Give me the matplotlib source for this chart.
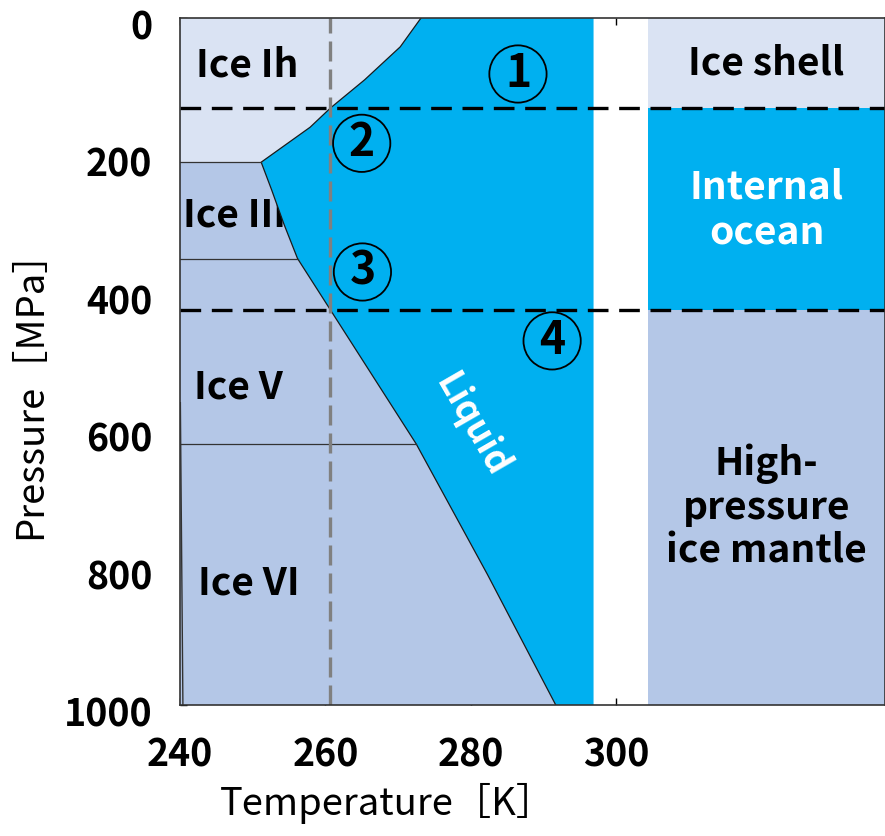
import numpy as np
import matplotlib.pyplot as plt
import matplotlib.transforms as mtransforms

plt.rcParams['font.family'] = ['Noto Sans CJK JP', 'DejaVu Sans']

# melting curve of water ice (T in K, P in MPa)
ih_T = [273.16, 270.3, 265.4, 260.7, 257.9, 251.17]
ih_P = [0, 42, 90, 131, 159, 209.9]
iii_T = [251.17, 252.6, 254.3, 256.17]
iii_P = [209.9, 250, 300, 350.1]
v_T = [256.17, 272.5]
v_P = [350.1, 620]
vi_T = [272.5, 282.3, 291.7]
vi_P = [620, 810, 1000]

# solid-solid boundaries (pressure of the triple points)
triple_P = [209.9, 350.1, 620]
triple_T = [251.17, 256.17, 272.5]

# faint low-temperature boundary inside ice VI
low_T = [240.05, 240.4]
low_P = [560, 1000]

T_min, T_max = 240, 337.0
P_max = 1000
liquid_edge = 296.9      # right end of the liquid field
panel_left = 304.4       # structure column on the right

shell_bottom = 131       # ice shell / ocean boundary
ocean_bottom = 425       # ocean / mantle boundary
T_profile = 260.7        # grey vertical line

marks = ['1', '2', '3', '4']
marks_T = [286.5, 265.0, 265.1, 291.2]
marks_P = [81.5, 182.4, 369.7, 470]

c_ih = '#DAE3F3'
c_hp = '#B4C7E7'
c_liq = '#00B0F0'

fig = plt.figure(figsize=(8.85, 8.36), dpi=100)
ax = fig.add_axes([180/885, 131/836, 705/885, 687/836])

curve_T = ih_T + iii_T[1:] + v_T[1:] + vi_T[1:]
curve_P = ih_P + iii_P[1:] + v_P[1:] + vi_P[1:]
high_T = iii_T + v_T[1:] + vi_T[1:]
high_P = iii_P + v_P[1:] + vi_P[1:]

# ice Ih field
ax.fill([T_min] + ih_T + [T_min], [0] + ih_P + [ih_P[-1]], color=c_ih, lw=0, zorder=1)
# high-pressure ices
ax.fill([T_min] + high_T + [T_min], [high_P[0]] + high_P + [P_max], color=c_hp, lw=0, zorder=1)
# liquid
ax.fill(curve_T + [liquid_edge, liquid_edge], curve_P + [P_max, 0], color=c_liq, lw=0, zorder=3)
ax.plot(curve_T, curve_P, color='#1a1a1a', lw=0.9, zorder=4)
for p, t in zip(triple_P, triple_T):
    ax.plot([T_min, t], [p, p], color='#333333', lw=0.9, zorder=4)
ax.plot(low_T, low_P, color='#333333', lw=1.0, zorder=4)

# right column: interior structure
ax.fill_between([panel_left, T_max], 0, shell_bottom, color=c_ih, lw=0, zorder=1)
ax.fill_between([panel_left, T_max], shell_bottom, ocean_bottom, color=c_liq, lw=0, zorder=1)
ax.fill_between([panel_left, T_max], ocean_bottom, P_max, color=c_hp, lw=0, zorder=1)

ax.axvline(T_profile, color='#808080', lw=2.4, dashes=(6, 2.4), zorder=5)
for p in [shell_bottom, ocean_bottom]:
    ax.axhline(p, color='black', lw=2.4, dashes=(6.2, 3.2), zorder=6)

bold = dict(fontsize=28, fontweight='bold')
ax.text(249.2, 68, 'Ice Ih', ha='center', va='center', zorder=5, **bold)
ax.text(240.4, 287, 'Ice III', ha='left', va='center', zorder=2, **bold)
ax.text(248.0, 537, 'Ice V', ha='center', va='center', zorder=5, **bold)
ax.text(249.4, 822, 'Ice VI', ha='center', va='center', zorder=5, **bold)
ax.text(280.2, 593, 'Liquid', color='white', rotation=-60, rotation_mode='anchor',
        ha='center', va='center', zorder=5, fontsize=26, fontweight='bold')

mid = (panel_left + T_max) / 2
ax.text(mid, 65, 'Ice shell', ha='center', va='center', zorder=5, **bold)
ax.text(mid, 279, 'Internal\nocean', color='white', ha='center', va='center',
        linespacing=1.22, zorder=5, **bold)
ax.text(mid, 712, 'High-\npressure\nice mantle', ha='center', va='center',
        linespacing=1.13, zorder=5, **bold)

ax.scatter(marks_T, marks_P, s=1700, facecolors='none', edgecolors='black', linewidths=1.3, zorder=7)
for m, t, p in zip(marks, marks_T, marks_P):
    ax.text(t, p, m, ha='center', va='center', fontsize=32, fontweight='bold', zorder=7)

ax.set_xlim(T_min, T_max)
ax.set_ylim(P_max, 0)
ax.set_xticks([240, 260, 280, 300])
ax.set_yticks([0, 200, 400, 600, 800, 1000])
ax.set_axisbelow(True)
ax.tick_params(axis='x', direction='in', length=5, width=1, top=True, pad=22, labelsize=27)
ax.tick_params(axis='y', direction='in', length=5, width=1, pad=20, labelsize=27)
shift = mtransforms.ScaledTranslation(0, -6/100, fig.dpi_scale_trans)
for lab in ax.get_yticklabels():
    lab.set_transform(lab.get_transform() + shift)
for lab in ax.get_xticklabels() + ax.get_yticklabels():
    lab.set_fontweight('bold')
for s in ax.spines.values():
    s.set_color('#333333')
    s.set_linewidth(1.2)
    s.set_zorder(8)

ax.set_xlabel('Temperature［K］', fontsize=27.5)
ax.set_ylabel('Pressure［MPa］', fontsize=27.5)
ax.xaxis.set_label_coords(0.294, -0.113)
ax.yaxis.set_label_coords(-0.184, 0.466)

fig.savefig('out.png', dpi=100)
